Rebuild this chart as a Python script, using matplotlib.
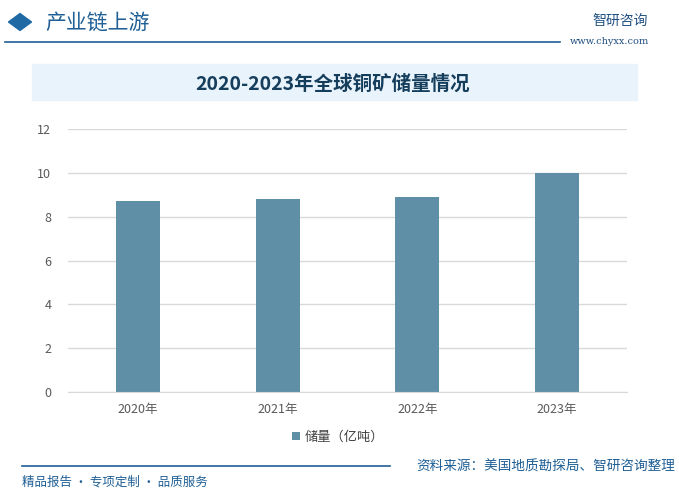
import matplotlib.pyplot as plt
from matplotlib.patches import Rectangle, RegularPolygon

plt.rcParams['font.family'] = ['Noto Sans CJK SC', 'DejaVu Sans']

years = ['2020年', '2021年', '2022年', '2023年']
reserves = [8.7, 8.8, 8.9, 10.0]
series_name = '储量（亿吨）'
title = '2020-2023年全球铜矿储量情况'
source = '资料来源：美国地质勘探局、智研咨询整理'

W, H = 679, 497
fig = plt.figure(figsize=(W / 100, H / 100), dpi=100)

def fx(px):
    return px / W

def fy(py):
    return 1 - py / H

# header
fig.patches.append(RegularPolygon((fx(20), fy(22)), 4, radius=0.017, orientation=0,
                                  transform=fig.transFigure, color='#1f6aa5'))
fig.text(fx(45), fy(23), '产业链上游', fontsize=15, color='#1f5f95', va='center')
fig.add_artist(plt.Line2D([fx(5), fx(560)], [fy(42), fy(42)], color='#1f5f95', lw=1.2))
fig.text(fx(592), fy(21), '智研咨询', fontsize=10, color='#1f4f80', va='center')
fig.text(fx(570), fy(42), 'www.chyxx.com', fontsize=7, color='#1f4f80', va='center',
         family='DejaVu Serif')

# title box
fig.patches.append(Rectangle((fx(32), fy(100)), fx(605), fy(64) - fy(100),
                             transform=fig.transFigure, color='#e8f3fb', zorder=0))
fig.text(fx(333), fy(84), title, fontsize=14, color='#153d5c', ha='center', va='center',
         fontweight='bold')

# chart
ax = fig.add_axes([fx(68), fy(392), fx(627) - fx(68), fy(129) - fy(392)])
x = range(len(years))
ax.bar(x, reserves, width=0.315, color='#5e8fa6', label=series_name, zorder=2)
ax.set_ylim(0, 12)
ax.set_xlim(-0.5, 3.5)
ax.set_yticks(range(0, 13, 2))
ax.set_xticks(list(x))
ax.set_xticklabels(years)
ax.grid(axis='y', color='#d9d9d9', lw=1)
ax.set_axisbelow(True)
for s in ['top', 'right', 'left']:
    ax.spines[s].set_visible(False)
ax.spines['bottom'].set_color('#d9d9d9')
ax.tick_params(length=0, colors='#595959', labelsize=9)
ax.tick_params(axis='y', pad=12)
ax.tick_params(axis='x', pad=8)

fig.legend(loc='center', bbox_to_anchor=(fx(338), fy(437)), frameon=False, fontsize=9.5,
           handlelength=0.6, handleheight=0.6, handletextpad=0.4, labelcolor='#404040')

# footer
fig.add_artist(plt.Line2D([fx(22), fx(390)], [fy(466), fy(466)], color='#1f5f95', lw=1.2))
fig.text(fx(22), fy(482), '精品报告 · 专项定制 · 品质服务', fontsize=9, color='#1f5f95', va='center')
fig.text(fx(675), fy(467), source, fontsize=9.8, color='#1f5f95', va='center', ha='right')

fig.savefig('out.png', dpi=100)
